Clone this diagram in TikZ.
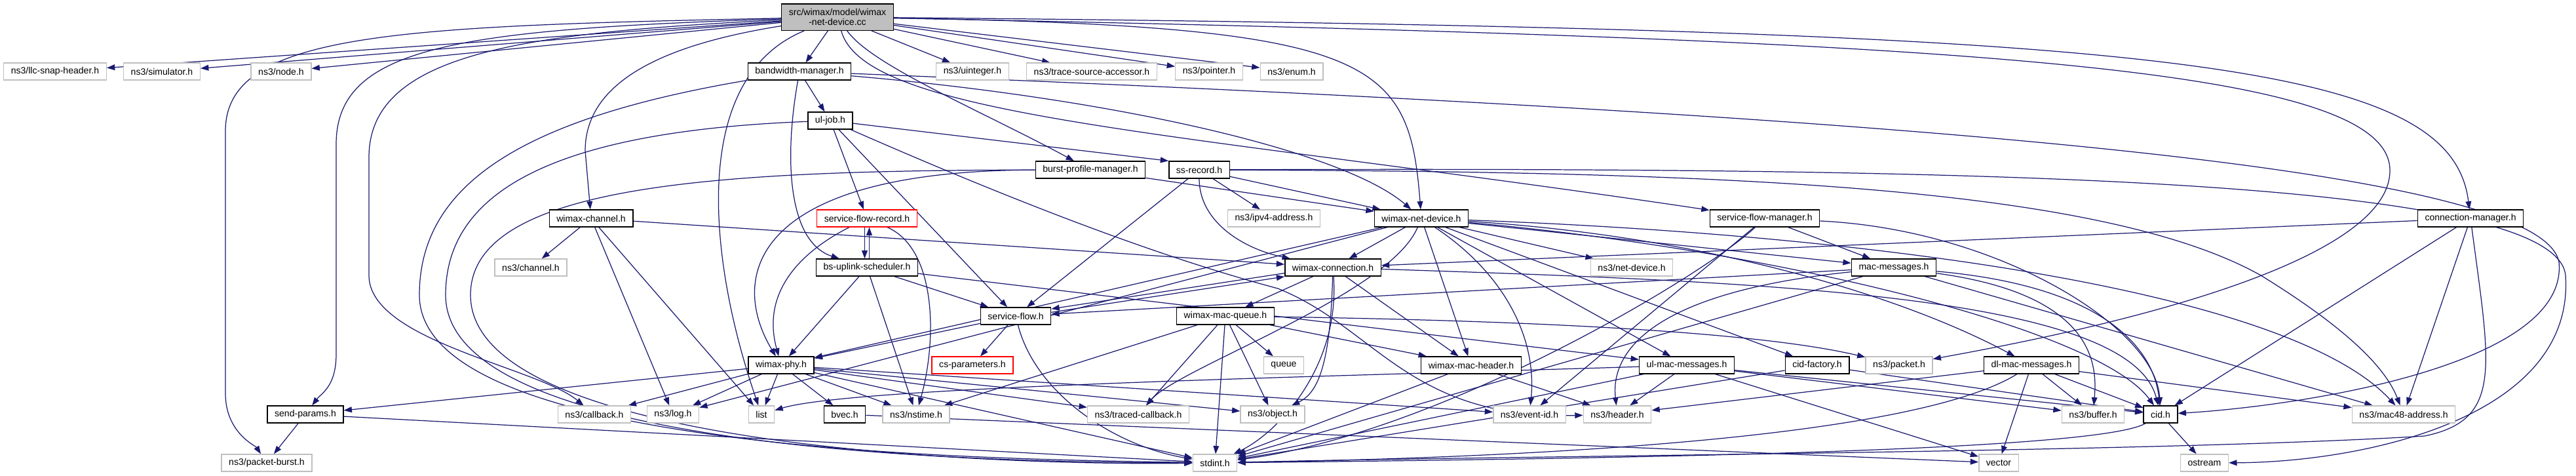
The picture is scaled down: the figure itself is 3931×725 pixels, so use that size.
\documentclass[tikz,border=0pt]{standalone}
\usepackage{fontspec}
\setmainfont{Liberation Sans}
\usetikzlibrary{arrows.meta}
\definecolor{midnightblue}{RGB}{25,25,112}
\definecolor{grey75}{RGB}{191,191,191}
\pgfdeclarelayer{edges}
\pgfsetlayers{edges,main}
\begin{document}
\begin{tikzpicture}[
    x=0.02cm, y=-0.02cm,
    box/.style={rectangle, fill=white, font=\fontsize{8}{9}\selectfont, inner xsep=6.3pt, inner ysep=1pt, minimum height=14.7pt, line width=0.8pt},
    hdr/.style={box, draw=black},
    sys/.style={box, draw=grey75},
    cut/.style={box, draw=red},
    src/.style={box, draw=black, fill=grey75, align=center, minimum height=23pt},
    inc_link/.style={draw=midnightblue, line width=0.7pt, -{Triangle[length=7pt,width=5pt]}} % frecce di inclusione
]
\useasboundingbox (0,0) rectangle (3931,725);
\node[src] (root) at (1278,26) {src/wimax/model/wimax\\-net-device.cc};
\node[sys] (llc_snap) at (84,109) {ns3/llc-snap-header.h};
\node[sys] (simulator) at (247,109) {ns3/simulator.h};
\node[sys] (node_h) at (429,109) {ns3/node.h};
\node[hdr] (bw_mgr) at (1220,109) {bandwidth-manager.h};
\node[sys] (uinteger) at (1484,109) {ns3/uinteger.h};
\node[sys] (trace_acc) at (1666,109) {ns3/trace-source-accessor.h};
\node[sys] (pointer) at (1845,109) {ns3/pointer.h};
\node[sys] (enum_h) at (1971,109) {ns3/enum.h};
\node[hdr] (ul_job) at (1267,184) {ul-job.h};
\node[hdr] (burst_mgr) at (1664,259) {burst-profile-manager.h};
\node[hdr] (ss_record) at (1830,259) {ss-record.h};
\node[hdr] (wmx_channel) at (902,333) {wimax-channel.h};
\node[cut] (sf_record) at (1323,333) {service-flow-record.h};
\node[sys] (ipv4_addr) at (1944,333) {ns3/ipv4-address.h};
\node[hdr] (wmx_netdev) at (2169,333) {wimax-net-device.h};
\node[hdr] (sf_mgr) at (2693,333) {service-flow-manager.h};
\node[hdr] (conn_mgr) at (3770,333) {connection-manager.h};
\node[sys] (channel) at (810,408) {ns3/channel.h};
\node[hdr] (bs_ul_sched) at (1323,408) {bs-uplink-scheduler.h};
\node[hdr] (wmx_conn) at (2034,408) {wimax-connection.h};
\node[sys] (net_device) at (2490,408) {ns3/net-device.h};
\node[hdr] (mac_msgs) at (2890,408) {mac-messages.h};
\node[hdr] (sflow) at (1550,482) {service-flow.h};
\node[hdr] (mac_queue) at (1870,482) {wimax-mac-queue.h};
\node[hdr] (wmx_phy) at (1192,557) {wimax-phy.h};
\node[cut] (cs_params) at (1484,557) {cs-parameters.h};
\node[sys] (queue_h) at (1959,557) {queue};
\node[hdr] (mac_header) at (2245,557) {wimax-mac-header.h};
\node[hdr] (ul_msgs) at (2574,557) {ul-mac-messages.h};
\node[hdr] (cid_factory) at (2773,557) {cid-factory.h};
\node[sys] (packet) at (2898,557) {ns3/packet.h};
\node[hdr] (dl_msgs) at (3100,557) {dl-mac-messages.h};
\node[hdr] (send_params) at (466,632) {send-params.h};
\node[sys] (callback) at (907,632) {ns3/callback.h};
\node[sys] (log_h) at (1027,632) {ns3/log.h};
\node[sys] (list_h) at (1162,632) {list};
\node[hdr] (bvec) at (1289,632) {bvec.h};
\node[sys] (nstime) at (1398,632) {ns3/nstime.h};
\node[sys] (traced_cb) at (1737,632) {ns3/traced-callback.h};
\node[sys] (object) at (1942,632) {ns3/object.h};
\node[sys] (event_id) at (2334,632) {ns3/event-id.h};
\node[sys] (header) at (2468,632) {ns3/header.h};
\node[sys] (buffer) at (3194,632) {ns3/buffer.h};
\node[hdr] (cid) at (3297,632) {cid.h};
\node[sys] (mac48) at (3668,632) {ns3/mac48-address.h};
\node[sys] (packet_burst) at (407,706) {ns3/packet-burst.h};
\node[sys] (stdint) at (1854,706) {stdint.h};
\node[sys] (vector_h) at (3050,706) {vector};
\node[sys] (ostream_h) at (3364,706) {ostream};

\begin{pgfonlayer}{edges}
% wimax-net-device.cc
\draw[inc_link] (root) -- (llc_snap);
\draw[inc_link] (root) -- (simulator);
\draw[inc_link] (root) -- (node_h);
\draw[inc_link] (root) -- (bw_mgr);
\draw[inc_link] (root) -- (uinteger);
\draw[inc_link] (root) -- (trace_acc);
\draw[inc_link] (root) -- (pointer);
\draw[inc_link] (root) -- (enum_h);
\draw[inc_link] (root) .. controls (1330,100) and (1500,170) .. (burst_mgr);
\draw[inc_link] (root) .. controls (1320,180) and (1800,200) .. (sf_mgr);
\draw[inc_link] (root) .. controls (2100,40) and (2150,90) .. (wmx_netdev);
\draw[inc_link] (root) .. controls (3300,45) and (3740,90) .. (conn_mgr);
\draw[inc_link] (root) .. controls (3000,60) and (3647,100) .. (3647,260) .. controls (3647,420) and (3100,520) .. (packet);
\draw[inc_link] (root) .. controls (1000,70) and (893,130) .. (893,230) -- (wmx_channel);
\draw[inc_link] (root) .. controls (1050,120) and (1082,400) .. (list_h);
\draw[inc_link] (root) .. controls (600,40) and (344,50) .. (344,200) -- (344,600) .. controls (344,660) and (390,680) .. (packet_burst);
\draw[inc_link] (root) .. controls (700,45) and (513,70) .. (513,220) -- (513,540) .. controls (513,590) and (490,600) .. (send_params);
\draw[inc_link] (root) .. controls (800,50) and (563,80) .. (563,240) -- (563,420) .. controls (563,520) and (820,560) .. (callback);
% bandwidth-manager.h
\draw[inc_link] (bw_mgr) .. controls (800,180) and (640,280) .. (640,450) .. controls (640,690) and (1500,700) .. (stdint);
\draw[inc_link] (bw_mgr) .. controls (1700,150) and (2050,230) .. (wmx_netdev);
\draw[inc_link] (bw_mgr) -- (ul_job);
\draw[inc_link] (bw_mgr) .. controls (1195,250) and (1205,370) .. (bs_ul_sched);
\draw[inc_link] (bw_mgr) .. controls (3000,180) and (3880,260) .. (3905,400) .. controls (3920,560) and (3500,620) .. (cid);
% ul-job.h
\draw[inc_link] (ul_job) .. controls (850,200) and (680,290) .. (680,450) .. controls (680,690) and (1500,705) .. (stdint);
\draw[inc_link] (ul_job) -- (ss_record.north west);
\draw[inc_link] (ul_job) -- (sf_record);
\draw[inc_link] (ul_job) -- (sflow);
\draw[inc_link] (ul_job) .. controls (1600,330) and (1800,400) .. (1950,440) .. controls (2100,500) and (2150,640) .. (header);
% burst-profile-manager.h
\draw[inc_link] (burst_mgr) .. controls (1100,260) and (718,280) .. (718,450) .. controls (718,680) and (1500,710) .. (stdint);
\draw[inc_link] (burst_mgr) -- (wmx_netdev);
\draw[inc_link] (burst_mgr) .. controls (1150,260) and (1110,420) .. (wmx_phy);
% ss-record.h
\draw[inc_link] (ss_record) .. controls (3000,255) and (3900,270) .. (3915,420) .. controls (3930,640) and (3600,705) .. (ostream_h);
\draw[inc_link] (ss_record) .. controls (2600,262) and (3200,280) .. (3450,420) .. controls (3580,500) and (3640,560) .. (mac48);
\draw[inc_link] (ss_record) -- (ipv4_addr);
\draw[inc_link] (ss_record) .. controls (1830,340) and (1900,380) .. (wmx_conn);
\draw[inc_link] (ss_record) -- (sflow);
\draw[inc_link] (ss_record) -- (wmx_netdev);
% wimax-channel.h
\draw[inc_link] (wmx_channel) -- (channel);
\draw[inc_link] (wmx_channel) -- (log_h);
\draw[inc_link] (wmx_channel) -- (list_h);
\draw[inc_link] (wmx_channel) -- (wmx_conn);
% service-flow-record.h
\draw[inc_link, transform canvas={xshift=-2pt}] (sf_record) -- (bs_ul_sched);
\draw[inc_link] (sf_record) .. controls (1430,380) and (1430,520) .. (nstime);
\draw[inc_link] (sf_record) .. controls (1230,380) and (1160,440) .. (wmx_phy);
% bs-uplink-scheduler.h
\draw[inc_link, transform canvas={xshift=2pt}] (bs_ul_sched) -- (sf_record);
\draw[inc_link] (bs_ul_sched) -- (sflow);
\draw[inc_link] (bs_ul_sched) -- (wmx_phy);
\draw[inc_link] (bs_ul_sched) -- (ul_msgs);
\draw[inc_link] (bs_ul_sched) -- (nstime);
% wimax-net-device.h
\draw[inc_link] (wmx_netdev) -- (net_device);
\draw[inc_link] (wmx_netdev) .. controls (2300,420) and (2345,520) .. (event_id);
\draw[inc_link] (wmx_netdev) .. controls (2900,360) and (3500,450) .. (mac48);
\draw[inc_link] (wmx_netdev) .. controls (2700,380) and (3200,500) .. (cid);
\draw[inc_link] (wmx_netdev) -- (wmx_conn);
\draw[inc_link] (wmx_netdev) -- (cid_factory);
\draw[inc_link] (wmx_netdev) -- (mac_msgs);
\draw[inc_link] (wmx_netdev) .. controls (2600,360) and (2900,450) .. (dl_msgs);
\draw[inc_link] (wmx_netdev) -- (ul_msgs);
\draw[inc_link] (wmx_netdev) .. controls (2120,450) and (1800,560) .. (traced_cb);
\draw[inc_link] (wmx_netdev) -- (log_h);
\draw[inc_link] (wmx_netdev) -- (wmx_phy);
\draw[inc_link] (wmx_netdev) -- (mac_header);
% service-flow-manager.h
\draw[inc_link] (sf_mgr) .. controls (2600,420) and (2200,660) .. (stdint);
\draw[inc_link] (sf_mgr) -- (event_id);
\draw[inc_link] (sf_mgr) -- (mac_msgs);
\draw[inc_link] (sf_mgr) .. controls (3050,350) and (3290,500) .. (cid);
% connection-manager.h
\draw[inc_link] (conn_mgr) -- (wmx_conn);
\draw[inc_link] (conn_mgr) -- (cid);
\draw[inc_link] (conn_mgr) -- (mac48);
\draw[inc_link] (conn_mgr) .. controls (3800,560) and (3820,640) .. (3700,665) .. controls (3300,690) and (2300,695) .. (stdint);
% wimax-connection.h
\draw[inc_link, transform canvas={yshift=1.5pt}] (wmx_conn) -- (sflow);
\draw[inc_link, transform canvas={yshift=-1.5pt}] (sflow) -- (wmx_conn);
\draw[inc_link] (wmx_conn) -- (mac_queue);
\draw[inc_link] (wmx_conn) -- (mac_header);
\draw[inc_link] (wmx_conn) .. controls (2030,560) and (2010,600) .. (object);
\draw[inc_link] (wmx_conn) .. controls (2045,560) and (1950,660) .. (stdint);
\draw[inc_link] (wmx_conn) .. controls (2700,430) and (3250,450) .. (cid);
% service-flow.h
\draw[inc_link] (sflow) -- (cs_params);
\draw[inc_link] (sflow) -- (wmx_phy);
\draw[inc_link] (sflow) .. controls (1580,600) and (1700,680) .. (stdint);
% wimax-mac-queue.h
\draw[inc_link] (mac_queue) -- (nstime);
\draw[inc_link] (mac_queue) -- (traced_cb);
\draw[inc_link] (mac_queue) -- (stdint);
\draw[inc_link] (mac_queue) -- (queue_h);
\draw[inc_link] (mac_queue) -- (object);
\draw[inc_link] (mac_queue) -- (mac_header);
\draw[inc_link] (mac_queue) .. controls (2400,490) and (2700,510) .. (packet);
% wimax-mac-header.h
\draw[inc_link] (mac_header) -- (header);
\draw[inc_link] (mac_header) -- (stdint);
% ul-mac-messages.h
\draw[inc_link] (ul_msgs) -- (header);
\draw[inc_link] (ul_msgs) -- (stdint);
\draw[inc_link] (ul_msgs) .. controls (2000,575) and (1300,590) .. (list_h);
\draw[inc_link] (ul_msgs) -- (buffer);
\draw[inc_link] (ul_msgs) -- (cid);
\draw[inc_link] (ul_msgs) -- (vector_h);
% dl-mac-messages.h
\draw[inc_link] (dl_msgs) -- (header);
\draw[inc_link] (dl_msgs) .. controls (2900,680) and (2200,700) .. (stdint);
\draw[inc_link] (dl_msgs) -- (vector_h);
\draw[inc_link] (dl_msgs) -- (buffer);
\draw[inc_link] (dl_msgs) -- (cid);
\draw[inc_link] (dl_msgs) -- (mac48);
% mac-messages.h
\draw[inc_link] (mac_msgs) -- (sflow);
\draw[inc_link] (mac_msgs) .. controls (3200,450) and (3200,560) .. (buffer);
\draw[inc_link] (mac_msgs) .. controls (3250,440) and (3290,560) .. (cid);
\draw[inc_link] (mac_msgs) -- (mac48);
\draw[inc_link] (mac_msgs) .. controls (2480,450) and (2460,560) .. (header);
\draw[inc_link] (mac_msgs) -- (stdint);
% cid-factory.h, cid.h
\draw[inc_link] (cid_factory) -- (cid);
\draw[inc_link] (cid_factory) -- (stdint);
\draw[inc_link] (cid) .. controls (3200,690) and (2400,700) .. (stdint);
\draw[inc_link] (cid) -- (ostream_h);
% send-params.h
\draw[inc_link] (send_params) -- (stdint);
\draw[inc_link] (send_params) -- (packet_burst);
% wimax-phy.h
\draw[inc_link] (wmx_phy) -- (send_params);
\draw[inc_link] (wmx_phy) -- (callback);
\draw[inc_link] (wmx_phy) -- (log_h);
\draw[inc_link] (wmx_phy) -- (list_h);
\draw[inc_link] (wmx_phy) -- (bvec);
\draw[inc_link] (wmx_phy) -- (nstime);
\draw[inc_link] (wmx_phy) -- (traced_cb);
\draw[inc_link] (wmx_phy) -- (object);
\draw[inc_link] (wmx_phy) -- (event_id);
\draw[inc_link] (wmx_phy) -- (stdint);
% bvec.h
\draw[inc_link] (bvec) -- (vector_h);
\end{pgfonlayer}
\end{tikzpicture}
\end{document}
